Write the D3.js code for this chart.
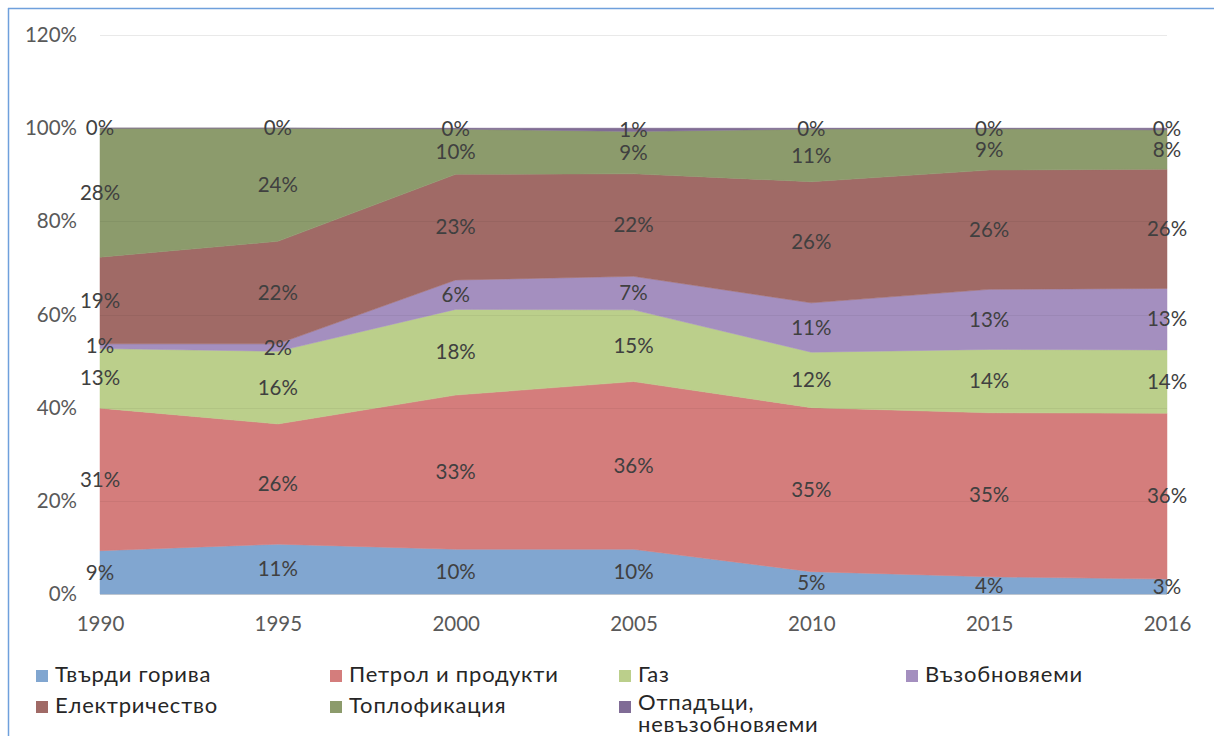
<!DOCTYPE html>
<html>
<head>
<meta charset="utf-8">
<script src="https://cdn.jsdelivr.net/npm/d3@7"></script>
<style>
  html, body { margin: 0; padding: 0; background: #fff; }
  svg { display: block; font-family: Lato, "Open Sans", sans-serif; }
</style>
</head>
<body>
<div id="chart"></div>
<script>
// categories
var years = ["1990", "1995", "2000", "2005", "2010", "2015", "2016"];

// series (share of final energy consumption, %)
var solidFuels  = [9.3, 10.7, 9.6, 9.6, 4.8, 3.7, 3.2];
var petroleum   = [30.6, 25.8, 33.1, 36.0, 35.2, 35.2, 35.6];
var gas         = [12.8, 15.6, 18.4, 15.4, 11.9, 13.6, 13.6];
var renewables  = [1.0, 1.6, 6.3, 7.2, 10.6, 12.9, 13.2];
var electricity = [18.6, 22.0, 22.7, 22.0, 26.0, 25.6, 25.6];
var heat        = [27.7, 24.3, 9.7, 9.1, 11.3, 8.9, 8.4];
var waste       = [0.0, 0.0, 0.2, 0.7, 0.2, 0.1, 0.4];

var seriesNames = ["Твърди горива", "Петрол и продукти", "Газ", "Възобновяеми",
                   "Електричество", "Топлофикация", "Отпадъци, невъзобновяеми"];
var seriesValues = [solidFuels, petroleum, gas, renewables, electricity, heat, waste];
var seriesColors = ["#81a6d0", "#d47d7c", "#bbcf8b", "#a48fbf", "#a06a66", "#8c9b6c", "#806c96"];

var yTicks = [0, 20, 40, 60, 80, 100, 120];

var width = 1214, height = 736;
var fontSize = 20.5;

var svg = d3.select("#chart").append("svg")
    .attr("width", width)
    .attr("height", height);

// outer frame (chart object border)
svg.append("line").attr("x1", 8.5).attr("x2", 8.5).attr("y1", 8).attr("y2", height)
    .attr("stroke", "#6fa0dc").attr("stroke-width", 1.5);
svg.append("line").attr("x1", 8).attr("x2", width).attr("y1", 8.5).attr("y2", 8.5)
    .attr("stroke", "#6fa0dc").attr("stroke-width", 1.5);

var x = d3.scalePoint().domain(years).range([100, 1167]);
var y = d3.scaleLinear().domain([0, 120]).range([594, 35]);

// build rows for stacking
var keys = d3.range(seriesNames.length);
var rows = years.map(function(yr, i) {
  var r = { year: yr };
  keys.forEach(function(k) { r[k] = seriesValues[k][i]; });
  return r;
});
var stacked = d3.stack().keys(keys)(rows);

// gridlines
svg.append("g").selectAll("line")
  .data(yTicks)
  .enter().append("line")
    .attr("x1", 100).attr("x2", 1167)
    .attr("y1", function(d) { return Math.round(y(d)) + 0.5; })
    .attr("y2", function(d) { return Math.round(y(d)) + 0.5; })
    .attr("stroke", function(d) { return d === 0 ? "#d0d0d0" : "#e9e9e9"; })
    .attr("stroke-width", 1);

// areas
var area = d3.area()
  .x(function(d) { return x(d.data.year); })
  .y0(function(d) { return y(d[0]); })
  .y1(function(d) { return y(d[1]); });

svg.append("g").selectAll("path")
  .data(stacked)
  .enter().append("path")
    .attr("d", area)
    .attr("fill", function(d) { return seriesColors[d.key]; })
    .attr("stroke", function(d) { return seriesColors[d.key]; })
    .attr("stroke-width", 0.5);

// faint gridlines showing through
svg.append("g").selectAll("line")
  .data(yTicks.filter(function(d) { return d > 0 && d < 120; }))
  .enter().append("line")
    .attr("x1", 100).attr("x2", 1167)
    .attr("y1", function(d) { return Math.round(y(d)) + 0.5; })
    .attr("y2", function(d) { return Math.round(y(d)) + 0.5; })
    .attr("stroke", "rgba(0,0,0,0.05)");

// y axis labels
var yAxis = d3.axisLeft(y).tickValues(yTicks).tickSize(0).tickPadding(0)
  .tickFormat(function(d) { return d + "%"; });
svg.append("g")
  .attr("transform", "translate(77,0)")
  .call(yAxis)
  .call(function(g) { g.select(".domain").remove(); })
  .selectAll("text")
    .attr("font-family", "Lato, sans-serif")
    .attr("font-size", fontSize)
    .attr("fill", "#595959");

// x axis labels
var xAxis = d3.axisBottom(x).tickSize(0).tickPadding(0);
svg.append("g")
  .attr("transform", "translate(0,616)")
  .call(xAxis)
  .call(function(g) { g.select(".domain").remove(); })
  .selectAll("text")
    .attr("font-family", "Lato, sans-serif")
    .attr("font-size", fontSize)
    .attr("fill", "#595959");

// data labels
var labelData = [];
stacked.forEach(function(s) {
  s.forEach(function(d) {
    labelData.push({ year: d.data.year, mid: (d[0] + d[1]) / 2, v: d[1] - d[0] });
  });
});
svg.append("g").selectAll("text")
  .data(labelData)
  .enter().append("text")
    .attr("x", function(d) { return x(d.year); })
    .attr("y", function(d) { return y(d.mid); })
    .attr("dy", "0.35em")
    .attr("text-anchor", "middle")
    .attr("font-size", fontSize)
    .attr("fill", "#404040")
    .text(function(d) { return Math.round(d.v) + "%"; });

// legend
var legendCols = [55, 349, 638, 925];
var legendRows = [682, 713];
var legend = svg.append("g").selectAll("g")
  .data(seriesNames)
  .enter().append("g")
    .attr("transform", function(d, i) {
      return "translate(" + legendCols[i % 4] + "," + legendRows[Math.floor(i / 4)] + ")";
    });
legend.append("rect")
  .attr("x", -19).attr("y", -12)
  .attr("width", 12).attr("height", 12)
  .attr("fill", function(d, i) { return seriesColors[i]; });
legend.append("text")
  .attr("font-size", 22)
  .attr("letter-spacing", 0.8)
  .attr("fill", "#262626")
  .each(function(d) {
    var parts = d.indexOf(", ") > 0 ? [d.split(", ")[0] + ",", d.split(", ")[1]] : [d];
    var t = d3.select(this);
    parts.forEach(function(p, j) {
      t.append("tspan").attr("x", 0).attr("dy", j === 0 ? (parts.length > 1 ? -3 : 0) : 22).text(p);
    });
  });
</script>
</body>
</html>
